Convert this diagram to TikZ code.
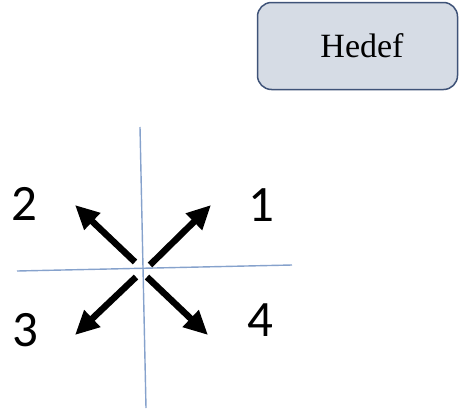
\documentclass[tikz,border=0pt]{standalone}
\usepackage{fontspec}
\setmainfont{Liberation Serif}
\newfontfamily\digitfont{Carlito}
\usetikzlibrary{arrows.meta}
\definecolor{boxfill}{HTML}{D6DCE5}
\definecolor{boxdraw}{HTML}{3F5378}
\definecolor{axis}{HTML}{86A2CC}
\tikzset{
  goalbox/.style={draw=boxdraw, line width=1.5pt, fill=boxfill, rounded corners=14pt, minimum width=200pt, minimum height=87pt, font=\fontsize{34}{36}\selectfont},
  axisline/.style={draw=axis, line width=1.4pt},
  dirarrow/.style={line width=6.5pt, -{Triangle[length=24pt,width=22pt]}},
  numlabel/.style={font=\digitfont\fontsize{51}{54}\selectfont, inner sep=0pt}
}
\begin{document}
\begin{tikzpicture}[x=1pt,y=-1pt]
\useasboundingbox (0,0) rectangle (460,418);
\node[goalbox] (goal) at (357.5,46) {\hspace*{9pt}\raisebox{-4pt}{Hedef}};
% axes
\coordinate (vt) at (140,127);
\coordinate (vb) at (146,408);
\coordinate (hl) at (17,271);
\coordinate (hr) at (292,265);
\draw[axisline] (vt) -- (vb);
\draw[axisline] (hl) -- (hr);
% arrows
\coordinate (t1) at (150,265);
\coordinate (h1) at (211,205);
\coordinate (t2) at (135,262);
\coordinate (h2) at (75,205);
\coordinate (t3) at (136,277);
\coordinate (h3) at (75,335);
\coordinate (t4) at (147,277);
\coordinate (h4) at (208,335);
\draw[dirarrow] (t1) -- (h1);
\draw[dirarrow] (t2) -- (h2);
\draw[dirarrow] (t3) -- (h3);
\draw[dirarrow] (t4) -- (h4);
% labels
\node[numlabel] (n1) at (261,205) {1};
\node[numlabel] (n2) at (24,204) {2};
\node[numlabel] (n3) at (25,330) {3};
\node[numlabel] (n4) at (260,320) {4};
\end{tikzpicture}
\end{document}
